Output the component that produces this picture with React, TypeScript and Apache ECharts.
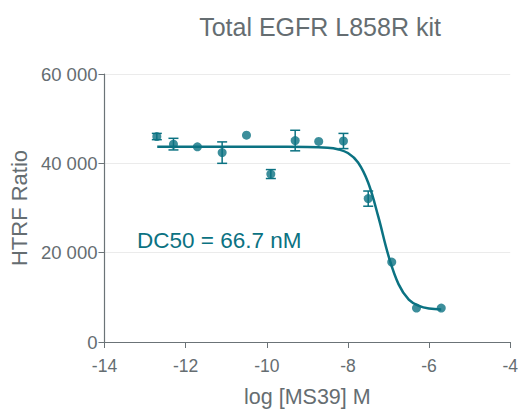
import React, { useEffect, useRef } from "react";
import * as echarts from "echarts";

const TITLE = "Total EGFR L858R kit";
const X_NAME = "log [MS39] M";
const Y_NAME = "HTRF Ratio";
const ANNOTATION = "DC50 = 66.7 nM";

const logConc = [-12.71, -12.3, -11.71, -11.1, -10.5, -9.9, -9.3, -8.72, -8.11, -7.5, -6.92, -6.31, -5.7];
const meanRatio = [46000, 44300, 43700, 42400, 46300, 37600, 45100, 44900, 45000, 32100, 17900, 7600, 7600];
const errRatio = [700, 1300, 300, 2400, 0, 1000, 2300, 300, 1700, 1700, 300, 300, 300];

const curveX = [-12.7, -11, -10, -9, -8.5, -8.25, -8, -7.75, -7.5, -7.25, -7, -6.75, -6.5, -6.25, -6, -5.7];
const curveY = [43700, 43700, 43700, 43670, 43500, 43160, 42300, 40200, 35650, 28000, 19300, 12900, 9500, 8100, 7500, 7300];

const TEAL = "#0b7282";
const GREY = "#656d71";
const FONT = "Liberation Sans";

export default function App() {
  const ref = useRef<HTMLDivElement>(null);
  useEffect(() => {
    const chart = echarts.init(ref.current!, null, { renderer: "svg" });
    const points = logConc.map((x, i) => [x, meanRatio[i]]);
    const errs = logConc.map((x, i) => [x, meanRatio[i] - errRatio[i], meanRatio[i] + errRatio[i]]);
    const curve = curveX.map((x, i) => [x, curveY[i]]);
    chart.setOption({
      animation: false,
      title: {
        text: TITLE,
        left: 315,
        top: 9,
        textAlign: "center",
        textStyle: { fontFamily: FONT, fontSize: 25, fontWeight: "normal", color: GREY },
      },
      grid: { left: 103, right: 7, top: 74, bottom: 67, containLabel: false },
      xAxis: {
        type: "value",
        min: -14,
        max: -4,
        interval: 2,
        name: X_NAME,
        nameLocation: "middle",
        nameGap: 44,
        nameTextStyle: { fontFamily: FONT, fontSize: 21.5, color: GREY },
        axisLine: { show: true, onZero: false, lineStyle: { color: "#6b7377", width: 1.2 } },
        axisTick: { show: true, length: 6, lineStyle: { color: "#6b7377" } },
        axisLabel: { fontFamily: FONT, fontSize: 17.5, color: GREY, margin: 15 },
        splitLine: { show: false },
      },
      yAxis: {
        type: "value",
        min: 0,
        max: 60000,
        interval: 20000,
        name: Y_NAME,
        nameLocation: "middle",
        nameGap: 72,
        nameTextStyle: { fontFamily: FONT, fontSize: 22, color: GREY },
        axisLine: { show: true, lineStyle: { color: "#6b7377", width: 1.2 } },
        axisTick: { show: true, length: 6, lineStyle: { color: "#6b7377" } },
        axisLabel: {
          fontFamily: FONT,
          fontSize: 18.5,
          color: GREY,
          margin: 7,
          formatter: (v: number) => String(v).replace(/\B(?=(\d{3})+(?!\d))/g, " "),
        },
        splitLine: { show: true, lineStyle: { color: "#ebebeb", width: 1 } },
      },
      graphic: [
        {
          type: "text",
          left: 137,
          top: 229,
          style: { text: ANNOTATION, fontFamily: FONT, fontSize: 22.5, fill: TEAL },
        },
      ],
      series: [
        {
          type: "line",
          data: curve,
          smooth: 0.4,
          showSymbol: false,
          lineStyle: { color: TEAL, width: 2.5 },
          z: 2,
        },
        {
          type: "custom",
          data: errs,
          z: 3,
          renderItem: (params: any, api: any) => {
            const x = api.value(0);
            const lo = api.coord([x, api.value(1)]);
            const hi = api.coord([x, api.value(2)]);
            const c = 5;
            const style = { stroke: TEAL, lineWidth: 1.5 };
            if (Math.abs(hi[1] - lo[1]) < 3) return { type: "group", children: [] };
            return {
              type: "group",
              children: [
                { type: "line", shape: { x1: lo[0], y1: lo[1], x2: hi[0], y2: hi[1] }, style },
                { type: "line", shape: { x1: lo[0] - c, y1: lo[1], x2: lo[0] + c, y2: lo[1] }, style },
                { type: "line", shape: { x1: hi[0] - c, y1: hi[1], x2: hi[0] + c, y2: hi[1] }, style },
              ],
            };
          },
        },
        {
          type: "scatter",
          data: points,
          symbol: "circle",
          symbolSize: 9,
          itemStyle: { color: TEAL },
          z: 4,
        },
      ],
    });
    return () => chart.dispose();
  }, []);
  return <div ref={ref} style={{ width: 521, height: 413, position: "absolute", left: 0, top: 0 }} />;
}
